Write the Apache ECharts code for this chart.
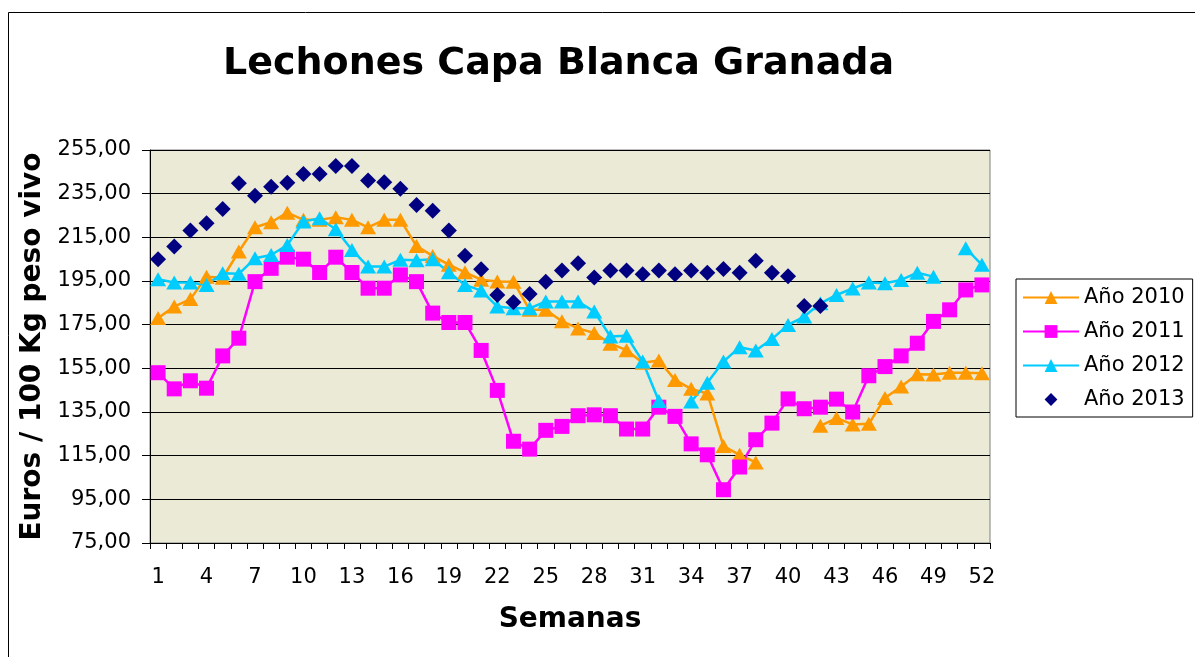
<!DOCTYPE html>
<html>
<head>
<meta charset="utf-8">
<script src="https://cdn.jsdelivr.net/npm/echarts@6/dist/echarts.min.js"></script>
<style>
  html, body { margin: 0; padding: 0; background: #fff; }
  #chart { width: 1195px; height: 657px; }
</style>
</head>
<body>
<div id="chart"></div>
<script>
// semanas 1..52
const semanas = [];
for (let i = 1; i <= 52; i++) semanas.push(String(i));

// precios (euros / 100 kg peso vivo), null = sin dato
const anio2010 = [178, 183.3, 186.7, 197, 196.5, 208.5, 219.6, 221.9, 226.3, 223, 223, 224.2, 223, 219.6, 223, 223,
  211, 206.5, 202.5, 199, 195.6, 194.8, 194.7, 181.8, 181.8, 176.6, 173.3, 171.2, 166.3, 163.3, 157.6, 158.6,
  149.7, 145.6, 143.5, 119.4, 115.4, 111.9, null, null, null, 128.7, 132.2, 129.3, 129.6, 141.4, 146.7, 152.3,
  152.2, 153, 153, 152.8];
const anio2011 = [153, 145.6, 149.3, 145.9, 160.7, 168.8, 194.7, 200.8, 205.9, 205, 198.9, 205.9, 198.9, 191.7, 191.7, 197.8,
  194.7, 180.3, 176, 176, 163.2, 144.9, 121.6, 118, 126.6, 128.4, 133.3, 133.7, 133.3, 127.2, 127.2, 137.2,
  133, 120.4, 115.4, 99.4, 109.8, 122.3, 129.9, 141, 136.5, 137.2, 140.9, 135, 151.6, 155.8, 160.7, 166.5,
  176.5, 181.8, 190.9, 193.2];
const anio2012 = [195.8, 194.3, 194.3, 193.2, 198.6, 198.3, 205.4, 206.9, 211.5, 222.2, 223.7, 218.7, 209.2, 201.6, 201.6, 204.7,
  204.5, 205, 199, 193.2, 190.6, 183.3, 182.5, 182.5, 185.6, 185.6, 185.6, 181, 169.6, 169.9, 158.1, 140,
  null, 139.8, 148.4, 158.1, 164.7, 163.2, 168.4, 174.9, 178.7, 184.8, 188.6, 191.6, 194.3, 194, 195.5, 198.8,
  197, null, 210, 202.4];
const anio2013 = [205, 210.8, 218.1, 221.5, 228, 239.8, 234, 238.2, 240, 244, 244, 247.7, 247.7, 241, 240.2, 237.2,
  229.8, 227.2, 218.1, 206.6, 200.4, 188.6, 185.3, 189, 194.7, 199.8, 203.1, 196.6, 199.8, 199.8, 198.1, 199.8,
  198.1, 199.8, 198.8, 200.5, 198.8, 204.3, 198.8, 197.2, 183.6, 183.6, null, null, null, null, null, null,
  null, null, null, null];

const font = 'Verdana, "DejaVu Sans", sans-serif';

function lineSerie(name, data, color, symbol, size, lineWidth) {
  return {
    name: name,
    type: 'line',
    data: data,
    symbol: symbol,
    symbolSize: size,
    showAllSymbol: true,
    connectNulls: false,
    lineStyle: { color: color, width: lineWidth, opacity: lineWidth ? 1 : 0 },
    itemStyle: { color: color, opacity: 1 },
    emphasis: { disabled: true },
    animation: false
  };
}

const chart = echarts.init(document.getElementById('chart'));
chart.setOption({
  backgroundColor: '#fff',
  animation: false,
  title: {
    text: 'Lechones Capa Blanca Granada',
    left: 218,
    top: 40,
    textStyle: { fontFamily: font, fontSize: 38, fontWeight: 'bold', color: '#000' }
  },
  graphic: [{
    type: 'rect',
    shape: { x: 8.5, y: 12.5, width: 1200, height: 700 },
    style: { fill: 'none', stroke: '#000', lineWidth: 1 },
    silent: true
  }],
  legend: {
    orient: 'vertical',
    left: 1016,
    top: 279,
    padding: [8, 8, 7, 6],
    itemWidth: 56,
    itemHeight: 16,
    itemGap: 13,
    borderColor: '#000',
    borderWidth: 1,
    backgroundColor: '#fff',
    textStyle: { fontFamily: font, fontSize: 21, color: '#000', lineHeight: 21 },
    data: ['Año 2010', 'Año 2011', 'Año 2012', 'Año 2013']
  },
  grid: {
    left: 150, right: 205, top: 150, bottom: 114,
    show: true,
    backgroundColor: '#EAEAD6',
    borderColor: '#808080',
    borderWidth: 1
  },
  xAxis: {
    type: 'category',
    data: semanas,
    boundaryGap: true,
    name: 'Semanas',
    nameLocation: 'middle',
    nameGap: 63,
    nameTextStyle: { fontFamily: font, fontSize: 28, fontWeight: 'bold', color: '#000' },
    axisLine: { lineStyle: { color: '#000', width: 1 } },
    axisTick: { show: true, interval: 0, length: 6, lineStyle: { color: '#000' } },
    axisLabel: { interval: 2, margin: 24, fontFamily: font, fontSize: 21, color: '#000' },
    splitLine: { show: false }
  },
  yAxis: {
    type: 'value',
    min: 75,
    max: 255,
    interval: 20,
    name: 'Euros / 100 Kg peso vivo',
    nameLocation: 'middle',
    nameRotate: 90,
    nameGap: 102,
    nameTextStyle: { fontFamily: font, fontSize: 28, fontWeight: 'bold', color: '#000' },
    axisLine: { show: true, lineStyle: { color: '#000', width: 1 } },
    axisTick: { show: true, length: 8, lineStyle: { color: '#000' } },
    axisLabel: {
      margin: 19,
      fontFamily: font, fontSize: 21, color: '#000',
      formatter: function (v) { return v.toFixed(2).replace('.', ','); }
    },
    splitLine: { show: true, lineStyle: { color: '#000', width: 1 } }
  },
  series: [
    lineSerie('Año 2010', anio2010, '#FF9900', 'triangle', [16, 14], 2.5),
    lineSerie('Año 2011', anio2011, '#FF00FF', 'rect', 15, 2.5),
    lineSerie('Año 2012', anio2012, '#00CCFF', 'triangle', [16, 14], 2.5),
    lineSerie('Año 2013', anio2013, '#000080', 'diamond', 16, 0)
  ]
});
</script>
</body>
</html>
